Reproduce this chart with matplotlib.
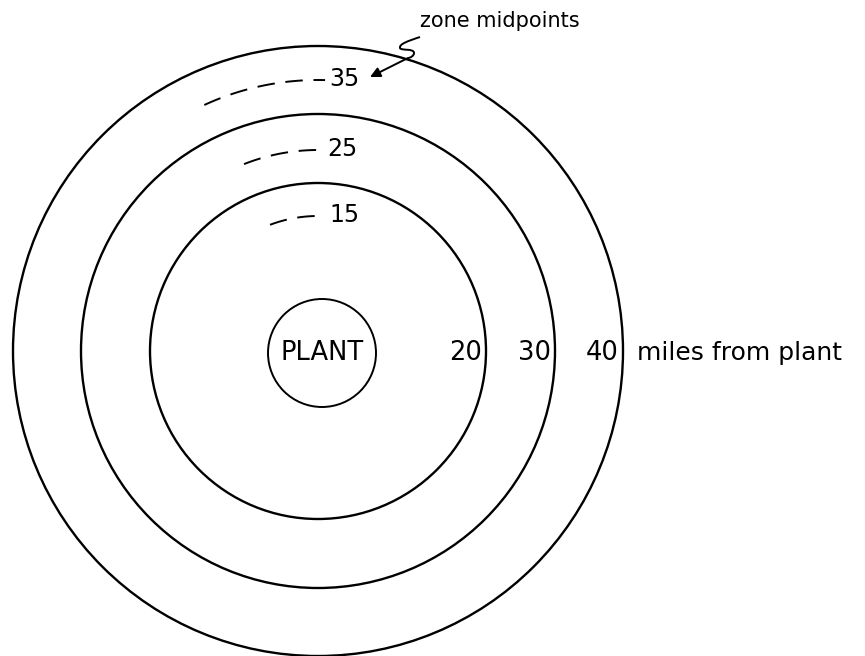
import numpy as np
import matplotlib
matplotlib.use("Agg")
import matplotlib.pyplot as plt
from matplotlib.patches import Circle, FancyArrowPatch, PathPatch
from matplotlib.path import Path

# ---- data ----
ring_labels = ["20", "30", "40"]
ring_radii = [168, 237, 305]          # drawn radius of each ring
plant_radius = 54
plant_label = "PLANT"
unit_label = "miles from plant"
mid_labels = ["15", "25", "35"]
mid_radii = [135, 201, 271]
mid_arc_start = [110.8, 111.6, 114.8]  # degrees
mid_arc_end = [87.0, 88.6, 88.5]
note_label = "zone midpoints"

W, H = 865, 656
fig = plt.figure(figsize=(W / 100, H / 100), dpi=100)
ax = fig.add_axes([0, 0, 1, 1])
ax.set_xlim(0, W)
ax.set_ylim(H, 0)
ax.set_aspect("equal")
ax.axis("off")

cx, cy = 318, 351
ink = "black"

for r in ring_radii:
    ax.add_patch(Circle((cx, cy), r, fill=False, lw=1.7, ec=ink))
ax.add_patch(Circle((cx + 4, cy + 2), plant_radius, fill=False, lw=1.4, ec=ink))
ax.text(cx + 4, cy + 2, plant_label, ha="center", va="center", fontsize=18.5, color=ink)

for lab, r in zip(ring_labels, ring_radii):
    ax.text(cx + r - 4, cy + 2, lab, ha="right", va="center", fontsize=18.5, color=ink)
ax.text(cx + ring_radii[-1] + 14, cy + 2, unit_label, ha="left", va="center",
        fontsize=18, color=ink)

for lab, r, a0, a1 in zip(mid_labels, mid_radii, mid_arc_start, mid_arc_end):
    t = np.radians(np.linspace(a0, a1, 60))
    xs = cx + r * np.cos(t)
    ys = cy - r * np.sin(t)
    ax.plot(xs, ys, color=ink, lw=1.4, dashes=(9.0, 5.5))
    ax.text(xs[-1] + 4, ys[-1] - 1, lab, ha="left", va="center", fontsize=17, color=ink)

ax.text(420, 21, note_label, ha="left", va="center", fontsize=15, color=ink)

# squiggle + arrow
verts = [(420, 37), (408, 41), (399, 44), (400, 48),
         (401, 51), (414, 48), (414, 53),
         (414, 56), (410, 58), (408, 58)]
codes = [Path.MOVETO, Path.CURVE4, Path.CURVE4, Path.CURVE4,
         Path.CURVE4, Path.CURVE4, Path.CURVE4,
         Path.CURVE4, Path.CURVE4, Path.CURVE4]
ax.add_patch(PathPatch(Path(verts, codes), fill=False, lw=1.4, ec=ink))
ax.add_patch(FancyArrowPatch((408, 58), (370, 77), arrowstyle="-|>", mutation_scale=15,
                             lw=1.4, color=ink, shrinkA=0, shrinkB=0))

fig.savefig("out.png", dpi=100, facecolor="white")
